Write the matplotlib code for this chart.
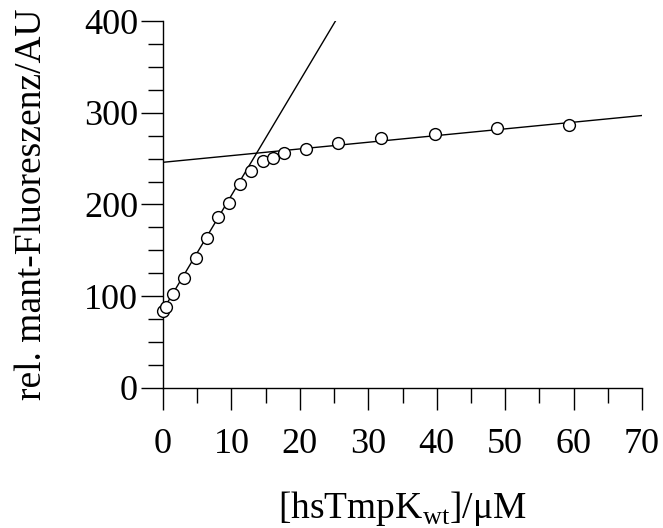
import numpy as np
import matplotlib.pyplot as plt
from matplotlib.ticker import MultipleLocator

plt.rcParams['font.family'] = ['Liberation Serif', 'DejaVu Serif']
plt.rcParams['mathtext.fontset'] = 'custom'
plt.rcParams['mathtext.rm'] = 'Liberation Serif'

# Messwerte: Konzentration (uM) und rel. Fluoreszenz
conc = [0.0, 0.5, 1.4, 3.1, 4.8, 6.4, 8.0, 9.6, 11.3, 12.9,
        14.6, 16.1, 17.7, 20.9, 25.6, 31.9, 39.7, 48.8, 59.3]
fluor = [84, 88, 102, 120, 142, 164, 186, 202, 222, 237,
         247, 251, 256, 261, 267, 273, 277, 283, 287]

# Geraden (Anstieg und Plateau)
rise_x = [0, 25.2]
rise_y = [85, 400]
plateau_x = [0, 70]
plateau_y = [246, 297]

fig = plt.figure(figsize=(6.63, 5.28), dpi=100)
ax = fig.add_axes([0.2459, 0.2652, 0.7224, 0.6950])

ax.plot(rise_x, rise_y, color='black', lw=1.0, zorder=2)
ax.plot(plateau_x, plateau_y, color='black', lw=1.0, zorder=2)
ax.plot(conc, fluor, 'o', ms=8.5, mfc='white', mec='black', mew=1.0,
        clip_on=False, zorder=3)

ax.set_xlim(0, 70)
ax.set_ylim(0, 400)
ax.spines['top'].set_visible(False)
ax.spines['right'].set_visible(False)
ax.spines['left'].set_linewidth(1.0)
ax.spines['bottom'].set_linewidth(1.0)

ax.xaxis.set_major_locator(MultipleLocator(10))
ax.xaxis.set_minor_locator(MultipleLocator(5))
ax.yaxis.set_major_locator(MultipleLocator(100))
ax.yaxis.set_minor_locator(MultipleLocator(25))
ax.tick_params(which='major', length=16, width=1.0, labelsize=26)
ax.tick_params(which='minor', length=11, width=1.0)
ax.tick_params(axis='x', which='major', pad=13)
ax.tick_params(axis='y', which='major', pad=2)

ax.set_xlabel('[hsTmpK$_{\\mathrm{wt}}$]/μM', fontsize=27, labelpad=20)
ax.set_ylabel('rel. mant-Fluoreszenz/AU', fontsize=27, labelpad=25)

fig.savefig('out.png', dpi=100)
